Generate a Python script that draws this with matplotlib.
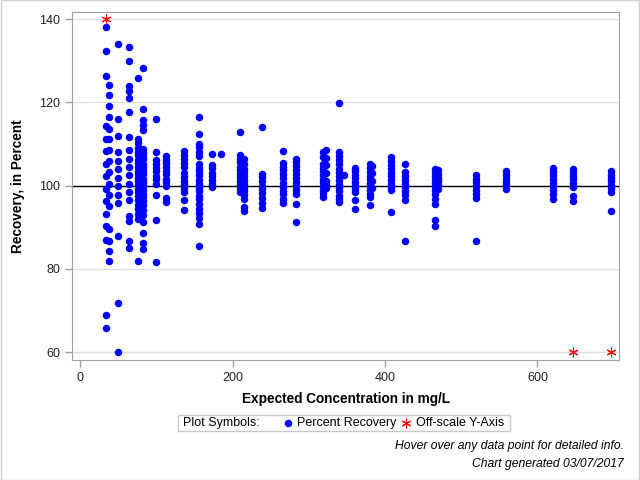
import matplotlib.pyplot as plt
from matplotlib.lines import Line2D
from matplotlib.patches import Rectangle

# expected concentration (mg/L) of each column of points
conc_levels = [33, 38, 50, 64, 75, 82, 99, 112, 136, 156, 173, 185, 209, 215,
               239, 266, 283, 319, 323, 340, 346, 360, 380, 383, 408, 426,
               465, 470, 519, 559, 620, 646, 697]

# percent recovery at each level
recovery_by_level = [
    [138.2, 132.4, 126.3, 114.3, 111.2, 108.4, 105.1, 102.2, 99.1, 96.2, 93.1, 90.2, 87.0, 69.0, 65.8],
    [124.3, 121.8, 119.1, 116.4, 113.7, 111.2, 108.5, 105.9, 103.3, 100.5, 97.7, 95.1, 89.6, 86.8, 84.4, 81.8],
    [134.0, 115.9, 111.9, 108.0, 105.9, 103.9, 101.8, 99.8, 97.8, 95.9, 87.8, 71.8, 60.0],
    [133.3, 130.0, 123.9, 122.7, 121.0, 117.7, 111.6, 108.5, 106.5, 104.5, 102.5, 100.5, 98.5, 96.5, 92.8, 91.4, 86.6, 85.1],
    [125.8, 111.3, 110.2, 109.0, 108.1, 107.3, 106.2, 105.4, 104.6, 103.5, 102.8, 101.9, 101.0, 100.2, 99.3,
     98.4, 97.6, 96.5, 95.4, 94.3, 93.1, 92.0, 81.8],
    [128.2, 118.3, 115.7, 114.5, 113.3, 108.9, 108.0, 107.1, 106.3, 105.2, 104.4, 103.6, 102.7, 101.6, 100.8,
     99.9, 99.0, 98.1, 97.3, 96.2, 95.4, 94.1, 93.0, 91.3, 88.7, 86.2, 84.8],
    [115.9, 108.0, 106.1, 105.2, 104.3, 103.5, 102.4, 101.6, 100.5, 97.8, 91.8, 81.7],
    [107.1, 106.2, 105.4, 104.5, 103.6, 102.8, 101.7, 100.9, 99.9, 97.0, 96.0],
    [108.3, 107.3, 106.4, 105.5, 104.5, 103.0, 102.1, 101.2, 100.3, 99.4, 98.5, 96.6, 94.2],
    [116.4, 112.5, 110.1, 109.2, 108.1, 107.1, 105.1, 104.2, 103.4, 102.5, 101.3, 100.4, 99.5, 98.7, 97.6,
     96.8, 95.7, 94.5, 93.4, 92.3, 90.8, 85.6],
    [107.5, 105.0, 104.2, 103.1, 102.3, 101.4, 100.5, 99.7],
    [107.7],
    [113.0, 107.3, 106.5, 105.6, 104.6, 103.8, 102.9, 102.0, 101.2, 100.3, 99.5, 98.5],
    [106.5, 105.3, 104.1, 103.2, 102.4, 101.3, 100.4, 99.4, 98.6, 97.7, 96.9, 94.9, 93.9],
    [114.0, 102.9, 102.0, 101.1, 100.0, 99.2, 98.3, 97.0, 95.9, 94.7],
    [108.4, 105.5, 104.6, 103.7, 102.8, 101.8, 100.7, 99.6, 98.8, 97.9, 96.8, 95.9],
    [106.5, 105.6, 104.7, 103.8, 102.7, 101.8, 100.9, 99.9, 99.0, 98.1, 95.7, 91.3],
    [108.0, 107.0, 105.2, 104.3, 103.5, 102.6, 101.7, 100.8, 99.9, 99.0, 98.2, 97.3],
    [108.6, 106.7, 104.9, 103.0, 101.2, 100.2, 99.4],
    [119.8, 108.1, 107.2, 106.2, 105.1, 104.1, 103.2, 102.3, 101.4, 100.5, 99.5, 98.6, 97.6, 96.9, 96.1],
    [102.5],
    [104.3, 103.5, 102.6, 101.8, 100.9, 100.0, 99.3, 98.5, 96.6, 94.5],
    [105.1, 104.2, 103.3, 102.4, 101.5, 100.6, 99.8, 99.0, 98.1, 97.3, 95.3],
    [104.8, 103.0, 101.1, 99.4],
    [106.9, 105.9, 105.0, 104.0, 103.1, 102.2, 101.3, 100.4, 99.6, 98.9, 93.6],
    [105.1, 103.3, 102.3, 101.4, 100.5, 99.6, 98.7, 97.7, 96.5, 86.6],
    [104.1, 103.3, 102.4, 101.5, 100.6, 99.8, 98.9, 97.9, 96.9, 95.7, 91.8, 90.2],
    [103.8, 102.9, 101.9, 101.0, 100.2, 99.1],
    [102.5, 101.7, 100.8, 99.9, 99.0, 98.1, 97.1, 86.6],
    [103.5, 102.6, 101.7, 100.9, 100.1, 99.3],
    [104.3, 103.4, 102.5, 101.6, 100.7, 99.8, 98.9, 97.9, 96.9],
    [104.1, 103.2, 102.4, 101.5, 100.6, 99.7, 97.4, 96.4],
    [103.5, 102.6, 101.8, 101.0, 100.2, 99.4, 98.5, 93.8],
]

# points outside the y range, drawn at the axis limit
offscale_x = [33, 646, 697]
offscale_y = [140, 60, 60]

y_ticks = [60, 80, 100, 120, 140]
x_ticks = [0, 200, 400, 600]

narrow = ['DejaVu Sans Condensed', 'Liberation Sans', 'DejaVu Sans']
plain = ['Liberation Sans', 'DejaVu Sans']
star = (6, 2, 0)

fig = plt.figure(figsize=(6.4, 4.8), dpi=100)
fig.patches.append(Rectangle((0.001, 0.001), 0.998, 0.998, transform=fig.transFigure,
                             fill=False, edgecolor='#d0d0d0', linewidth=1))
ax = fig.add_axes([72 / 640, 1 - 360 / 480, (619 - 72) / 640, (360 - 11.7) / 480])

xs, ys = [], []
for c, vals in zip(conc_levels, recovery_by_level):
    xs += [c] * len(vals)
    ys += vals

ax.set_axisbelow(True)
ax.grid(axis='y', color='#e0e0e0', linewidth=1)
ax.axhline(100, color='black', linewidth=1, zorder=1)
ax.plot(xs, ys, 'o', color='#0000ff', markersize=5.4, markeredgewidth=0, zorder=3)
ax.plot(offscale_x, offscale_y, linestyle='none', marker=star, color='red',
        markersize=7, markeredgewidth=0.8, zorder=4)

ax.set_xlim(-11, 707)
ax.set_ylim(58.1, 141.8)
ax.set_xticks(x_ticks)
ax.set_yticks(y_ticks)
for s in ax.spines.values():
    s.set_color('#a0a0a0')
ax.tick_params(colors='#a0a0a0', labelcolor='#222222', length=5, width=1)
for lab in ax.get_xticklabels() + ax.get_yticklabels():
    lab.set_family(narrow)
    lab.set_fontsize(9)

fig.text(345.5 / 640, 1 - 399 / 480, 'Expected Concentration in mg/L', ha='center', va='center',
         family=narrow, fontsize=9.8, fontweight='bold')
fig.text(18 / 640, 1 - 186 / 480, 'Recovery, in Percent', ha='center', va='center',
         rotation=90, family=narrow, fontsize=9.8, fontweight='bold')

# legend box
fig.patches.append(Rectangle((178 / 640, 1 - 431 / 480), (510 - 178) / 640, 16 / 480,
                             transform=fig.transFigure, fill=False, edgecolor='#c8c8c8', linewidth=1))
ly = 1 - 423 / 480
fig.text(183 / 640, ly, 'Plot Symbols:', ha='left', va='center', family=plain, fontsize=9)
fig.add_artist(Line2D([288 / 640], [ly], marker='o', color='#0000ff', markersize=5.4,
                      markeredgewidth=0, transform=fig.transFigure))
fig.text(297 / 640, ly, 'Percent Recovery', ha='left', va='center', family=plain, fontsize=9)
fig.add_artist(Line2D([406 / 640], [ly], marker=star, color='red', markersize=7,
                      markeredgewidth=0.8, transform=fig.transFigure))
fig.text(416 / 640, ly, 'Off-scale Y-Axis', ha='left', va='center', family=plain, fontsize=9)

fig.text(624 / 640, 1 - 446 / 480, 'Hover over any data point for detailed info.', ha='right',
         va='center', family=plain, fontsize=8.7, style='italic')
fig.text(624 / 640, 1 - 464 / 480, 'Chart generated 03/07/2017', ha='right',
         va='center', family=plain, fontsize=8.7, style='italic')

fig.savefig('out.png', dpi=100)
